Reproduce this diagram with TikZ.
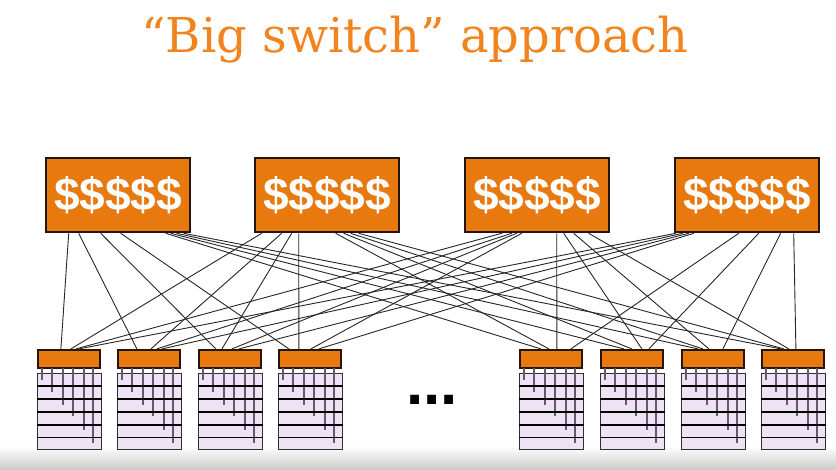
\documentclass[tikz,border=0pt]{standalone}
\usepackage{fontspec}
\setmainfont{DejaVu Serif}
\newfontfamily\dollarfont{Liberation Sans}
\definecolor{titleorange}{HTML}{F2841F}
\definecolor{boxorange}{HTML}{E8790F}
\definecolor{boxedge}{HTML}{24150E}
\definecolor{rackfill}{HTML}{EEE3F4}
\definecolor{rackedge}{HTML}{332C38}
\definecolor{slotline}{HTML}{65586C}
\begin{document}
\begin{tikzpicture}[x=1pt,y=-1pt,
  core/.style={draw=boxedge, line width=2.6pt, fill=boxorange,
    minimum width=144pt, minimum height=74pt, inner sep=0pt, text=white,
    font=\dollarfont\bfseries\fontsize{46}{46}\selectfont},
  tor/.style={draw=boxedge, line width=2.2pt, fill=boxorange,
    minimum width=62pt, minimum height=18pt, inner sep=0pt},
  rack/.style={draw=rackedge, line width=1.3pt, fill=rackfill,
    minimum width=64pt, minimum height=76pt, inner sep=0pt},
  link/.style={draw=black!85, line width=0.9pt},
  slot/.style={draw=slotline, line width=1.5pt},
  shelf/.style={draw=black, line width=1.5pt}]
\useasboundingbox (0,0) rectangle (836,469);
% floor shading along the lower edge
\shade[top color=white, bottom color=black!20] (0,446) rectangle (836,469);

% title
\node[anchor=base, text=titleorange, inner sep=0pt,
  font=\fontsize{48}{48}\selectfont] (title) at (415,52) {“Big switch” approach};

% core switches
\node[core] (s1) at (118,195) {\$\$\$\$\$};
\node[core] (s2) at (327,195) {\$\$\$\$\$};
\node[core] (s3) at (537,195) {\$\$\$\$\$};
\node[core] (s4) at (747,195) {\$\$\$\$\$};

% top-of-rack switches and their racks
\foreach \i/\cx in {1/69,2/149,3/230,4/310,5/551,6/632,7/713,8/793}{
  \node[rack] (r\i) at (\cx+0.8,411.5) {};
  \node[tor] (t\i) at (\cx,359) {};
  \foreach \dx/\dy in {5/7,15/19,26/32,36/43,47/57,56/70}
    \draw[slot] ([xshift=\dx pt,yshift=4.5pt]r\i.north west) -- ([xshift=\dx pt,yshift=-\dy pt]r\i.north west);
  \foreach \dy in {13.3,26.3,39,52,64.7}
    \draw[shelf] ([yshift=-\dy pt]r\i.north west) -- ([yshift=-\dy pt]r\i.north east);
}

% full mesh between core switches and top-of-rack switches
\foreach \s/\t/\a/\b in {
  1/1/24/24, 1/2/34/20, 1/3/56/18, 1/4/76/11, 1/5/121/22, 1/6/126/24, 1/7/132/17, 1/8/139/20,
  2/1/8/34,  2/2/28/34, 2/3/38/24, 2/4/45/21, 2/5/82/30,   2/6/90/32,  2/7/97/22,  2/8/105/23,
  3/1/38/39, 3/2/48/40, 3/3/53/34, 3/4/58/33, 3/5/93/38,   3/6/100/42, 3/7/110/28, 3/8/125/28,
  4/1/2/42,  4/2/9/45,  4/3/15/41, 4/4/20/41, 4/5/65/52,   4/6/85/49,  4/7/107/42, 4/8/120/35}
  \draw[link] ([xshift=\a pt]s\s.south west) -- ([xshift=\b pt]t\t.north west);

% ellipsis between the two groups of racks
\node[anchor=base, inner sep=0pt, font=\dollarfont\bfseries\fontsize{62}{62}\selectfont]
  (dots) at (432,404) {...};
\end{tikzpicture}
\end{document}
